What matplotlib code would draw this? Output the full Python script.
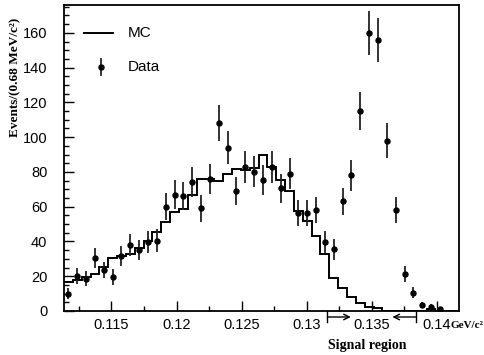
import matplotlib
matplotlib.use('Agg')
import matplotlib.pyplot as plt
import matplotlib.transforms as mtransforms
from matplotlib.ticker import MultipleLocator, FuncFormatter
import numpy as np

# binning of the invariant mass histogram (GeV/c^2)
bin_start = 0.11135
bin_width = 0.00068

# data counts per bin and their errors
data_counts = [10, 20, 18.5, 30.5, 23.5, 19.5, 31.5, 38, 35, 39.5,
               40.5, 60, 67, 66, 74, 59, 76, 108, 94, 69,
               83, 80, 75.5, 83, 70.5, 79, 56.5, 56.5, 58, 39.5,
               35.5, 63, 78, 115, 160, 156, 98, 58, 21, 10.5,
               3.5, 2.5, 1]
data_errors = [3.2, 4.5, 4.3, 5.5, 4.8, 4.4, 5.6, 6.2, 5.9, 6.3,
               6.4, 7.7, 8.2, 8.1, 8.6, 7.7, 8.7, 10.4, 9.7, 8.3,
               9.1, 8.9, 8.7, 9.1, 8.4, 8.9, 7.5, 7.5, 7.6, 6.3,
               6.0, 7.9, 8.8, 10.7, 12.6, 12.5, 9.9, 7.6, 4.6, 3.2,
               1.9, 1.6, 1.0]

# MC histogram contents
mc_counts = [16.5, 18, 19.5, 21, 25.5, 30.5, 31.5, 33, 36, 40,
             45.5, 51, 57, 58.5, 67, 76, 76, 75, 79, 81.5,
             81, 82.5, 90, 83, 75.5, 69, 57.5, 51.5, 43, 33,
             19, 13.5, 8, 4.5, 2.5, 1.5, 0, 0, 0, 0,
             0, 1, 0, 0, 0]

signal_lo, signal_hi = 0.1316, 0.1384
x_min, x_max = 0.11135, 0.14172
y_max = 176

W, H = 485, 355
fig = plt.figure(figsize=(W / 100, H / 100), dpi=100)
ax = fig.add_axes([64 / W, 44 / H, 395 / W, 306 / H])

sans = 'Liberation Sans'
serif = 'Liberation Serif'

# MC histogram
mc_edges = bin_start + bin_width * np.arange(len(mc_counts) + 1)
ax.stairs(mc_counts, mc_edges, baseline=None, color='black', lw=1.4)

# data points
centers = bin_start + bin_width * (np.arange(len(data_counts)) + 0.5)
ax.errorbar(centers, data_counts, yerr=data_errors, fmt='o', ms=3.6,
            color='black', ecolor='#222222', elinewidth=1.3, capsize=0)

ax.set_xlim(x_min, x_max)
ax.set_ylim(0, y_max)

ax.xaxis.set_major_locator(MultipleLocator(0.005))
ax.xaxis.set_minor_locator(MultipleLocator(0.0025))
ax.xaxis.set_major_formatter(FuncFormatter(lambda v, p: '%g' % round(v, 4)))
ax.set_yticks(range(0, 161, 20))
ax.yaxis.set_minor_locator(MultipleLocator(5))

ax.tick_params(which='both', direction='in', top=False, right=False,
               labelsize=10.5, width=1)
ax.tick_params(which='major', length=7)
ax.tick_params(which='minor', length=3.5)
ax.tick_params(axis='x', pad=5)
ax.tick_params(axis='y', pad=12)
for lab in ax.get_xticklabels() + ax.get_yticklabels():
    lab.set_fontfamily(sans)
for sp in ax.spines.values():
    sp.set_linewidth(1.3)

# legend drawn by hand
ax.plot([0.051, 0.124], [0.909, 0.909], transform=ax.transAxes,
        color='black', lw=1.4)
ax.text(0.162, 0.909, 'MC', transform=ax.transAxes, fontsize=11,
        family=sans, va='center')
ax.plot([0.094, 0.094], [0.772, 0.824], transform=ax.transAxes,
        color='#222222', lw=1.3)
ax.plot([0.094], [0.798], 'o', ms=3.6, color='black', transform=ax.transAxes)
ax.text(0.162, 0.798, 'Data', transform=ax.transAxes, fontsize=11,
        family=sans, va='center')

# axis titles
fig.text(15 / W, 1 - 18 / H, 'Events/(0.68 MeV/c²)', rotation=90,
         ha='center', va='top', fontsize=9.5, family=serif, weight='bold')
fig.text(483 / W, 1 - 326 / H, 'GeV/c²', ha='right', va='center',
         fontsize=8, family=serif, weight='bold')
fig.text(367 / W, 1 - 345 / H, 'Signal region', ha='center', va='center',
         fontsize=10, family=serif, weight='bold')

# signal region arrows below the axis
tr = mtransforms.blended_transform_factory(ax.transData, fig.transFigure)
y_arrow = 1 - 317 / H
for x0, x1 in [(signal_lo, 0.1334), (signal_hi, 0.1366)]:
    ax.plot([x0, x0], [1 - 311 / H, 1 - 322 / H], transform=tr,
            color='black', lw=1, clip_on=False)
    ax.annotate('', xy=(x1, y_arrow), xytext=(x0, y_arrow),
                xycoords=tr, textcoords=tr, annotation_clip=False,
                arrowprops=dict(arrowstyle='->', lw=1, color='black',
                                shrinkA=0, shrinkB=0))

fig.savefig('out.png', dpi=100)
